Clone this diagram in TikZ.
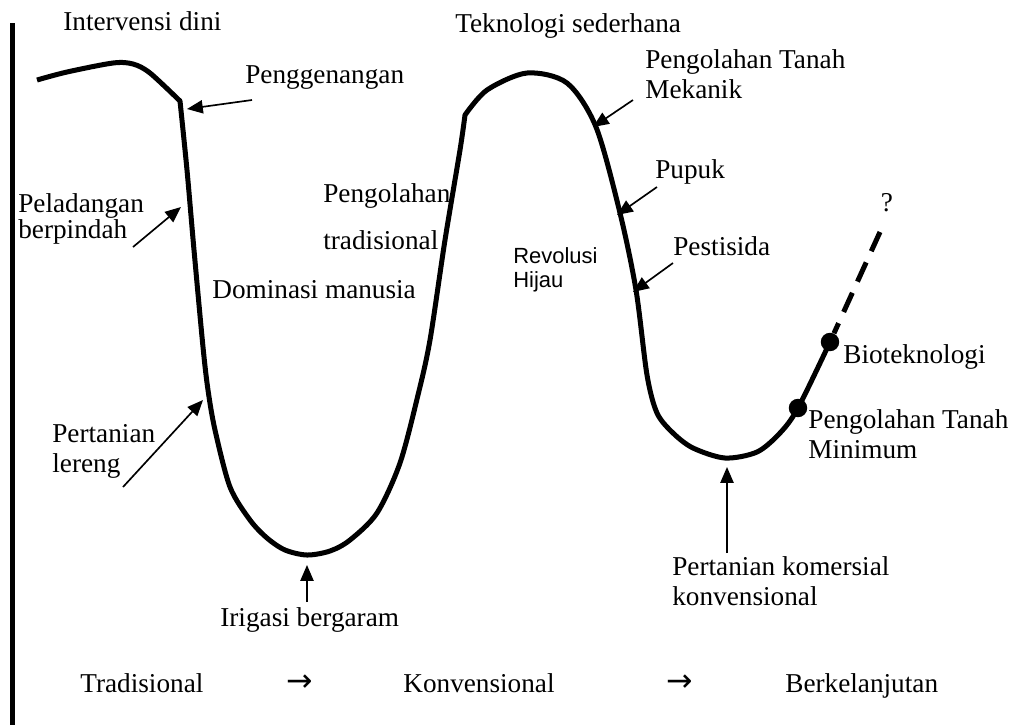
\documentclass[tikz,border=0pt]{standalone}
\usepackage{fontspec}
\setmainfont{Liberation Serif}
\setsansfont{Liberation Sans}
\newfontfamily\panahfont{DejaVu Sans}
\usepackage{tikz}
\usetikzlibrary{positioning}
\usetikzlibrary{arrows.meta}
\tikzstyle{kurva}=[line width=2.85pt, line join=round]
\tikzstyle{teks}=[inner sep=0pt, anchor=base west, font=\fontsize{15.5}{17}\selectfont]
\tikzstyle{blok}=[inner sep=0pt, anchor=north west, align=left, font=\fontsize{15.5}{17}\selectfont]
\tikzstyle{ke}=[inner sep=0pt, anchor=base, font=\panahfont\fontsize{18}{18}\selectfont]
\tikzstyle{panah}=[line width=0.95pt, -{Triangle[length=9pt,width=7.5pt]}]
\tikzstyle{titik}=[circle, fill=black, inner sep=0pt, minimum size=10.5pt]
\tikzstyle{putus}=[line width=2.85pt, dash pattern=on 12pt off 7pt]

\begin{document}
\begin{tikzpicture}[x=0.02cm, y=-0.02cm]
			\useasboundingbox (0,0) rectangle (1018,725);
			\draw[line width=2.85pt] (12.5,23) -- (12.5,725);
			
			\node [teks] (intv) at (63,30) {Intervensi dini};
			\node [teks] (tekno) at (455,32) {Teknologi sederhana};
			\node [teks] (pengg) at (245,83) {Penggenangan};
			\node [blok] (pengmek) at (645,49) {Pengolahan Tanah\\Mekanik};
			\node [teks] (pupuk) at (655,178) {Pupuk};
			\node [teks] (pestis) at (673,255) {Pestisida};
			\node [blok, font=\fontsize{15.5}{13}\selectfont] (pelad) at (18,193) {Peladangan\\berpindah};
			\node [blok, font=\fontsize{15.5}{27}\selectfont] (pengtrad) at (323,183) {Pengolahan\\tradisional};
			\node [teks] (domin) at (212,298) {Dominasi manusia};
			\node [blok, font=\sffamily\fontsize{12.5}{13.6}\selectfont] (revol) at (513,247) {Revolusi\\Hijau};
			\node [blok] (pert) at (52,424) {Pertanian\\lereng};
			\node [teks] (irigasi) at (220,626) {Irigasi bergaram};
			\node [blok] (komers) at (672,556) {Pertanian komersial\\konvensional};
			\node [teks] (bio) at (843,363) {Bioteknologi};
			\node [blok] (pengmin) at (808,409) {Pengolahan Tanah\\Minimum};
			\node [teks, anchor=base] (tanya) at (887,211) {?};
			
			\node [teks] (trad) at (80,692) {Tradisional};
			\node [ke] (ke1) at (300,691) {→};
			\node [teks] (konv) at (403,692) {Konvensional};
			\node [ke] (ke2) at (680,691) {→};
			\node [teks] (lanjut) at (785,692) {Berkelanjutan};
			
			\draw[kurva] plot[smooth] coordinates {(37,80) (67,72) (113,63) (133,64) (150,73) (180,101)}
				-- plot[smooth] coordinates {(180,101) (187,170) (194,250) (203,347) (208,390) (215,430) (230,487) (250,520) (267,538) (285,550) (307,555) (330,551) (350,540) (377,513) (400,463) (418,395) (430,340) (445,240) (460,150) (465,115)}
				-- plot[smooth] coordinates {(465,115) (487,90) (527,73) (567,83) (596,127) (620,213) (636,290) (647,375) (657,413) (673,433) (693,448) (725,458) (757,452) (780,433) (798,408) (830,342)};
			
			\node [titik] (dotmin) at (798,408) {};
			\node [titik] (dotbio) at (830,342) {};
			\coordinate (qend) at (880,232);
			\draw[putus] (qend) -- (dotbio);
			
			\coordinate (ekorgenang) at (252,100); \coordinate (ujunggenang) at (187,109);
			\coordinate (ekorpelad) at (133,247); \coordinate (ujungpelad) at (181,207);
			\coordinate (ekorpert) at (123,487); \coordinate (ujungpert) at (203,400);
			\coordinate (ekoririg) at (307,602); \coordinate (ujungirig) at (307,565);
			\coordinate (ekormek) at (633,100); \coordinate (ujungmek) at (593,127);
			\coordinate (ekorpupuk) at (657,187); \coordinate (ujungpupuk) at (617,215);
			\coordinate (ekorpest) at (673,263); \coordinate (ujungpest) at (633,292);
			\coordinate (ekorkom) at (727,553); \coordinate (ujungkom) at (727,467);
			
			\draw[panah] (ekorgenang) -- (ujunggenang);
			\draw[panah] (ekorpelad) -- (ujungpelad);
			\draw[panah] (ekorpert) -- (ujungpert);
			\draw[panah] (ekoririg) -- (ujungirig);
			\draw[panah] (ekormek) -- (ujungmek);
			\draw[panah] (ekorpupuk) -- (ujungpupuk);
			\draw[panah] (ekorpest) -- (ujungpest);
			\draw[panah] (ekorkom) -- (ujungkom);
\end{tikzpicture}
\end{document}
